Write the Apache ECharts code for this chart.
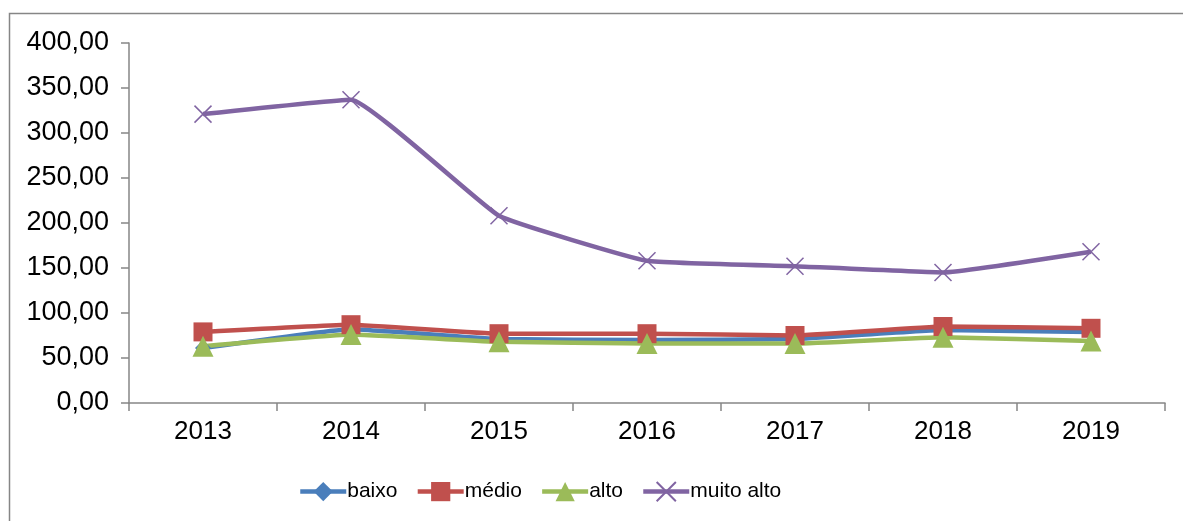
<!DOCTYPE html>
<html>
<head>
<meta charset="utf-8">
<script src="https://cdn.jsdelivr.net/npm/echarts@6/dist/echarts.min.js"></script>
<style>
  html, body { margin: 0; padding: 0; background: #fff; }
  #chart { width: 1183px; height: 521px; }
</style>
</head>
<body>
<div id="chart"></div>
<script>
const years = ["2013", "2014", "2015", "2016", "2017", "2018", "2019"];
const baixo = [61, 82, 71, 70, 71, 81, 79];
const medio = [79, 87, 77, 77, 75, 85, 83];
const alto = [63, 76, 68, 66, 66, 73, 69];
const muitoAlto = [321, 337, 208, 158, 152, 145, 168];
const yMin = 0;
const yMax = 400;
const yStep = 50;

const axisColor = "#868686";
const fontFamily = "'Liberation Sans', Arial, sans-serif";

let myChart = echarts.init(document.getElementById("chart"));

function lineSeries(name, data, color, symbol, size) {
  return {
    name: name,
    type: "line",
    data: data,
    smooth: 0.1,
    symbol: symbol,
    symbolSize: size,
    showSymbol: true,
    lineStyle: { color: color, width: 4.5 },
    itemStyle: { color: color, borderColor: color, borderWidth: 0 }
  };
}

let crossSeries = lineSeries("muito alto", muitoAlto, "#8064A2", "path://M0,0L10,10M10,0L0,10", 17);
crossSeries.itemStyle = { color: "#8064A2", borderColor: "#8064A2", borderWidth: 1.5 };

let option = {
  animation: false,
  textStyle: { fontFamily: fontFamily },
  graphic: [
    {
      type: "rect",
      shape: { x: 9.5, y: 13.5, width: 1300, height: 700 },
      style: { fill: "none", stroke: axisColor, lineWidth: 1.5 },
      silent: true
    }
  ],
  grid: {
    left: 129,
    top: 43,
    right: 18,
    bottom: 118
  },
  legend: {
    left: 293,
    top: 476,
    itemWidth: 46,
    itemHeight: 24,
    itemGap: 18,
    lineStyle: { width: 4.5 },
    textStyle: { fontSize: 21, color: "#000", fontFamily: fontFamily, padding: [0, 0, 0, -4] },
    data: ["baixo", "médio", "alto", "muito alto"]
  },
  xAxis: {
    type: "category",
    data: years,
    boundaryGap: true,
    axisLine: { lineStyle: { color: axisColor, width: 1.5 } },
    axisTick: { show: true, length: 8, alignWithLabel: false, lineStyle: { color: axisColor, width: 1.5 } },
    axisLabel: { color: "#000", fontSize: 26, margin: 16, fontFamily: fontFamily }
  },
  yAxis: {
    type: "value",
    min: yMin,
    max: yMax,
    interval: yStep,
    splitLine: { show: false },
    axisLine: { show: true, lineStyle: { color: axisColor, width: 1.5 } },
    axisTick: { show: true, length: 8, lineStyle: { color: axisColor, width: 1.5 } },
    axisLabel: {
      color: "#000",
      fontSize: 27,
      margin: 20,
      fontFamily: fontFamily,
      formatter: v => v.toFixed(2).replace(".", ",")
    }
  },
  series: [
    lineSeries("baixo", baixo, "#4A7EBB", "diamond", 16),
    lineSeries("médio", medio, "#C0504D", "rect", 19),
    lineSeries("alto", alto, "#9BBB59", "triangle", 21),
    crossSeries
  ]
};
myChart.setOption(option);
</script>
</body>
</html>
